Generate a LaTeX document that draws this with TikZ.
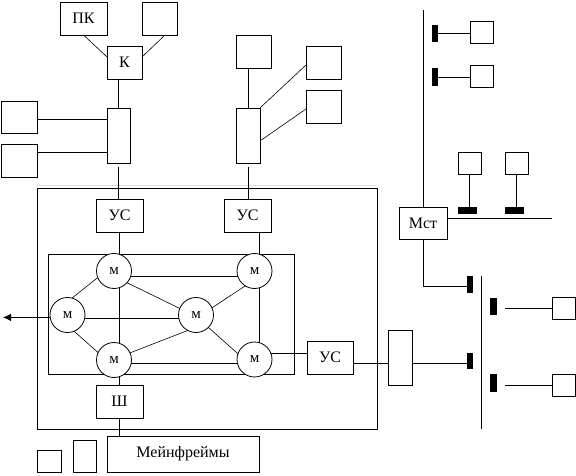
\documentclass[tikz,border=0pt]{standalone}
\usepackage{fontspec}
\setmainfont{Liberation Serif}
\usetikzlibrary{arrows.meta,backgrounds}
\begin{document}
\begin{tikzpicture}[x=1pt,y=-1pt, line width=0.8pt,
  box/.style={draw, rectangle, inner sep=0pt, outer sep=0pt, font=\fontsize{16}{18}\selectfont},
  mc/.style={draw, circle, fill=white, minimum size=35pt, inner sep=0pt, outer sep=0pt, font=\fontsize{15}{17}\selectfont},
  bar/.style={fill=black, rectangle, inner sep=0pt, outer sep=0pt},
  thinln/.style={line width=0.6pt}]
\useasboundingbox (0,0) rectangle (576,476);

% ---- upper left group
\node[box, minimum width=47pt, minimum height=33pt] (pk) at (83.5,18.5) {ПК};
\node[box, minimum width=35pt, minimum height=33pt] (tr1) at (159.5,18.5) {};
\node[box, minimum width=35pt, minimum height=33pt] (k) at (124.5,62.5) {К};
\node[box, minimum width=36pt, minimum height=32pt] (l1) at (19,117) {};
\node[box, minimum width=36pt, minimum height=33pt] (l2) at (19,160.5) {};
\node[box, minimum width=23pt, minimum height=55pt] (t1) at (118.5,135.5) {};

\draw[thinln] (pk.south) -- ([yshift=5.5pt]k.west);
\draw[thinln] ([xshift=5.5pt]tr1.south) -- ([yshift=5.5pt]k.east);
\draw (t1.north |- k.south) -- (t1.north);
\draw ([yshift=-2pt]l1.east) -- ([yshift=-2pt]l1.east -| t1.west);
\draw ([yshift=8.5pt]l2.east) -- ([yshift=8.5pt]l2.east -| t1.west);

% ---- upper middle group
\node[box, minimum width=35pt, minimum height=33pt] (t2) at (253.5,51.5) {};
\node[box, minimum width=24pt, minimum height=55pt] (t2t) at (248,135.5) {};
\node[box, minimum width=35pt, minimum height=33pt] (r1) at (323.5,62.5) {};
\node[box, minimum width=35pt, minimum height=33pt] (r2) at (323.5,106.5) {};
\draw (t2t.north |- t2.south) -- (t2t.north);
\draw[thinln] (t2t.north east) -- ([yshift=-2.5pt]r1.west);
\draw[thinln] ([yshift=-5.5pt]t2t.east) -- ([yshift=-2.5pt]r2.west);

% ---- big frame
\coordinate (dl) at (37,185);
\coordinate (dr) at (376,185);
\draw[gray!45, line width=0.6pt, densely dotted] (dl) -- (dr);
\node[draw, rectangle, inner sep=0pt, outer sep=0pt, minimum width=340pt, minimum height=241pt] (big) at (207,308.5) {};
\node[draw, rectangle, inner sep=0pt, outer sep=0pt, minimum width=246pt, minimum height=120pt] (inner) at (171,314) {};

\node[box, minimum width=47pt, minimum height=33pt] (us1) at (119.5,215.5) {УС};
\node[box, minimum width=47pt, minimum height=33pt] (us2) at (247.5,215.5) {УС};
\node[box, minimum width=46pt, minimum height=33pt] (us3) at (330,357.5) {УС};
\node[box, minimum width=47pt, minimum height=33pt] (sh) at (119.5,401.5) {Ш};
\node[box, minimum width=152pt, minimum height=36pt] (mf) at (183,454) {Мейнфреймы};
\node[box, minimum width=24pt, minimum height=22pt] (sb1) at (49,461) {};
\node[box, minimum width=23pt, minimum height=32pt] (sb2) at (84.5,456) {};

\draw ([yshift=-4pt]t1.south) -- (t1.south |- us1.north);
\draw ([yshift=-4pt]t2t.south) -- (t2t.south |- us2.north);

% circles
\node[mc] (m1) at (114,271) {м};
\node[mc] (m2) at (67.5,315) {м};
\node[mc] (m3) at (114,360) {м};
\node[mc] (m4) at (254.5,271) {м};
\node[mc] (m5) at (196,315) {м};
\node[mc] (m6) at (254.5,359.5) {м};

\begin{pgfonlayer}{background}
\draw (us1.south) -- (sh.north);
\end{pgfonlayer}
\draw (sh.south) -- (sh.south |- mf.north);
\draw (m4.75 |- us2.south) -- (m4.75);

\draw (m1.342) -- (m1.342 -| m4.198);
\draw[thinln] (m1.202) -- (m2.75);
\draw[thinln] (m1.318) -- (m5.158);
\draw (m2.348) -- (m2.348 -| m5.192);
\draw[thinln] (m2.292) -- (m3.155);
\draw[thinln] (m5.242) -- (m3.24);
\draw (m3.350) -- (m3.350 -| m6.191);
\draw[thinln] (m5.24) -- (m4.238);
\draw[thinln] (m5.315) -- (m6.161);
\draw (m4.285) -- (m6.75);
\draw (m6.22) -- (m6.22 -| us3.west);

\coordinate (arr) at (3,319);
\draw[-{Latex[length=8pt,width=7pt]}] (m2.188) -- (m2.188 -| arr);

% ---- right side
\node[box, minimum width=24pt, minimum height=55pt] (t3) at (400,357.5) {};
\node[box, minimum width=48pt, minimum height=32pt] (mst) at (423,223) {Мст};

\node[box, minimum width=23pt, minimum height=22pt] (q1) at (481.5,32) {};
\node[box, minimum width=23pt, minimum height=22pt] (q2) at (481.5,76) {};
\node[box, minimum width=23pt, minimum height=22pt] (q3) at (469.5,163) {};
\node[box, minimum width=23pt, minimum height=22pt] (q4) at (516.5,163) {};
\node[box, minimum width=23.5pt, minimum height=22pt] (q5) at (563.75,308) {};
\node[box, minimum width=23.5pt, minimum height=22pt] (q6) at (563.75,385) {};

\node[bar, minimum width=6pt, minimum height=17pt] (b1) at (435,33.5) {};
\node[bar, minimum width=6pt, minimum height=18pt] (b2) at (435,77) {};
\node[bar, minimum width=19pt, minimum height=7pt] (b3) at (467.5,210.5) {};
\node[bar, minimum width=19pt, minimum height=7pt] (b4) at (514.5,210.5) {};
\node[bar, minimum width=6pt, minimum height=17pt] (b5) at (470,284.5) {};
\node[bar, minimum width=6pt, minimum height=16pt] (b6) at (470,361) {};
\node[bar, minimum width=7pt, minimum height=17pt] (b7) at (493.5,306.5) {};
\node[bar, minimum width=7pt, minimum height=18pt] (b8) at (493.5,383) {};

\coordinate (mtop) at (423,10);
\draw (mtop) -- (mst.north);
\draw (mst.south) |- ([yshift=-1.5pt]b5.west);
\draw (b1.east) -- (b1.east -| q1.west);
\draw (b2.east) -- (b2.east -| q2.west);
\draw (q3.south) -- (q3.south |- b3.north);
\draw (q4.south) -- (q4.south |- b4.north);
\coordinate (hend) at (552,218);
\draw ([yshift=5pt]mst.east) -- (hend);

\coordinate (vtop) at (481,276);
\coordinate (vbot) at (481,429);
\draw (vtop) -- (vbot);
\draw (q5.west) -- ([xshift=8pt]b7.east |- q5.west);
\draw (q6.west) -- ([xshift=8pt]b8.east |- q6.west);

\draw ([yshift=-5.5pt]us3.east) -- ([yshift=-5.5pt]us3.east -| t3.west);
\draw ([yshift=-5.5pt]t3.east) -- ([yshift=-5.5pt]t3.east -| b6.west);
\end{tikzpicture}
\end{document}
